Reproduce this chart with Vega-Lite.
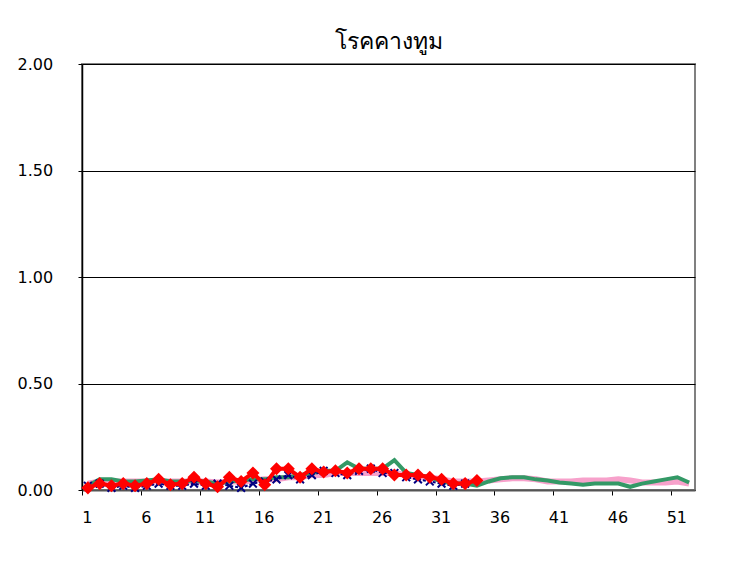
{
  "$schema": "https://vega.github.io/schema/vega-lite/v6.json",
  "width": 613,
  "height": 426,
  "autosize": {"type": "none"},
  "padding": {"left": 82, "top": 64, "right": 36, "bottom": 79},
  "background": "white",
  "title": {"text": "โรคคางทูม", "fontSize": 23, "fontWeight": "normal", "font": "DejaVu Sans", "color": "black", "anchor": "middle", "offset": 2},
  "config": {
    "view": {"stroke": "#808080", "strokeWidth": 2},
    "axis": {"labelFont": "DejaVu Sans", "labelFontSize": 16, "labelColor": "black"}
  },
  "data": {"values": [
    {"week": 1, "median": 0.03, "prev": 0.02, "last": 0.02, "current": 0.01},
    {"week": 2, "median": 0.04, "prev": 0.05, "last": 0.03, "current": 0.03},
    {"week": 3, "median": 0.04, "prev": 0.05, "last": 0.01, "current": 0.02},
    {"week": 4, "median": 0.04, "prev": 0.04, "last": 0.02, "current": 0.03},
    {"week": 5, "median": 0.04, "prev": 0.04, "last": 0.01, "current": 0.02},
    {"week": 6, "median": 0.04, "prev": 0.045, "last": 0.02, "current": 0.03},
    {"week": 7, "median": 0.04, "prev": 0.05, "last": 0.03, "current": 0.05},
    {"week": 8, "median": 0.04, "prev": 0.04, "last": 0.02, "current": 0.025},
    {"week": 9, "median": 0.04, "prev": 0.04, "last": 0.02, "current": 0.03},
    {"week": 10, "median": 0.04, "prev": 0.045, "last": 0.03, "current": 0.06},
    {"week": 11, "median": 0.04, "prev": 0.04, "last": 0.02, "current": 0.03},
    {"week": 12, "median": 0.035, "prev": 0.03, "last": 0.03, "current": 0.015},
    {"week": 13, "median": 0.04, "prev": 0.04, "last": 0.02, "current": 0.06},
    {"week": 14, "median": 0.04, "prev": 0.045, "last": 0.01, "current": 0.04},
    {"week": 15, "median": 0.045, "prev": 0.05, "last": 0.03, "current": 0.08},
    {"week": 16, "median": 0.05, "prev": 0.05, "last": 0.04, "current": 0.025},
    {"week": 17, "median": 0.05, "prev": 0.06, "last": 0.05, "current": 0.10},
    {"week": 18, "median": 0.06, "prev": 0.06, "last": 0.07, "current": 0.10},
    {"week": 19, "median": 0.06, "prev": 0.07, "last": 0.05, "current": 0.06},
    {"week": 20, "median": 0.07, "prev": 0.08, "last": 0.07, "current": 0.10},
    {"week": 21, "median": 0.07, "prev": 0.09, "last": 0.09, "current": 0.085},
    {"week": 22, "median": 0.08, "prev": 0.09, "last": 0.08, "current": 0.09},
    {"week": 23, "median": 0.08, "prev": 0.13, "last": 0.07, "current": 0.08},
    {"week": 24, "median": 0.08, "prev": 0.10, "last": 0.09, "current": 0.10},
    {"week": 25, "median": 0.08, "prev": 0.10, "last": 0.10, "current": 0.10},
    {"week": 26, "median": 0.08, "prev": 0.10, "last": 0.08, "current": 0.10},
    {"week": 27, "median": 0.08, "prev": 0.14, "last": 0.08, "current": 0.07},
    {"week": 28, "median": 0.07, "prev": 0.08, "last": 0.06, "current": 0.07},
    {"week": 29, "median": 0.06, "prev": 0.07, "last": 0.05, "current": 0.07},
    {"week": 30, "median": 0.06, "prev": 0.06, "last": 0.04, "current": 0.06},
    {"week": 31, "median": 0.05, "prev": 0.04, "last": 0.03, "current": 0.05},
    {"week": 32, "median": 0.04, "prev": 0.03, "last": 0.02, "current": 0.03},
    {"week": 33, "median": 0.04, "prev": 0.03, "last": 0.03, "current": 0.03},
    {"week": 34, "median": 0.04, "prev": 0.02, "last": null, "current": 0.045},
    {"week": 35, "median": 0.045, "prev": 0.04, "last": null, "current": null},
    {"week": 36, "median": 0.05, "prev": 0.055, "last": null, "current": null},
    {"week": 37, "median": 0.055, "prev": 0.06, "last": null, "current": null},
    {"week": 38, "median": 0.055, "prev": 0.06, "last": null, "current": null},
    {"week": 39, "median": 0.05, "prev": 0.05, "last": null, "current": null},
    {"week": 40, "median": 0.04, "prev": 0.045, "last": null, "current": null},
    {"week": 41, "median": 0.04, "prev": 0.035, "last": null, "current": null},
    {"week": 42, "median": 0.04, "prev": 0.03, "last": null, "current": null},
    {"week": 43, "median": 0.045, "prev": 0.025, "last": null, "current": null},
    {"week": 44, "median": 0.045, "prev": 0.03, "last": null, "current": null},
    {"week": 45, "median": 0.045, "prev": 0.03, "last": null, "current": null},
    {"week": 46, "median": 0.05, "prev": 0.03, "last": null, "current": null},
    {"week": 47, "median": 0.045, "prev": 0.015, "last": null, "current": null},
    {"week": 48, "median": 0.035, "prev": 0.03, "last": null, "current": null},
    {"week": 49, "median": 0.035, "prev": 0.04, "last": null, "current": null},
    {"week": 50, "median": 0.035, "prev": 0.05, "last": null, "current": null},
    {"week": 51, "median": 0.04, "prev": 0.06, "last": null, "current": null},
    {"week": 52, "median": 0.03, "prev": 0.035, "last": null, "current": null}
  ]},
  "encoding": {
    "x": {
      "field": "week", "type": "quantitative",
      "scale": {"domain": [0.5, 52.5], "nice": false, "zero": false},
      "axis": {
        "title": null,
        "values": [1, 6, 11, 16, 21, 26, 31, 36, 41, 46, 51],
        "grid": false,
        "domainColor": "#555555", "domainWidth": 2,
        "tickColor": "black", "tickSize": 5, "tickOffset": -6, "labelOffset": 5,
        "labelPadding": 14
      }
    }
  },
  "layer": [
    {
      "mark": {"type": "line", "color": "#F7A1CB", "strokeWidth": 6},
      "encoding": {"y": {
        "field": "median", "type": "quantitative",
        "scale": {"domain": [0, 2], "nice": false},
        "axis": {
          "title": null,
          "values": [0, 0.5, 1, 1.5, 2],
          "format": ".2f",
          "grid": true, "gridColor": "black", "gridWidth": 1, "gridOpacity": 1,
          "domainColor": "black", "domainWidth": 1.5,
          "tickColor": "black", "tickSize": 4,
          "labelAlign": "left", "labelPadding": 61, "labelBaseline": "middle"
        }
      }}
    },
    {
      "mark": {"type": "line", "color": "#339966", "strokeWidth": 4},
      "encoding": {"y": {"field": "prev", "type": "quantitative"}}
    },
    {
      "mark": {"type": "line", "color": "#000080", "strokeWidth": 2, "strokeDash": [3, 2]},
      "encoding": {"y": {"field": "last", "type": "quantitative"}}
    },
    {
      "mark": {"type": "point", "shape": "M-1,-1L1,1M-1,1L1,-1", "filled": false, "color": "#000080", "strokeWidth": 2, "size": 60, "opacity": 1},
      "encoding": {"y": {"field": "last", "type": "quantitative"}}
    },
    {
      "mark": {"type": "line", "color": "#FF0000", "strokeWidth": 4},
      "encoding": {"y": {"field": "current", "type": "quantitative"}}
    },
    {
      "mark": {"type": "point", "shape": "diamond", "filled": true, "color": "#FF0000", "size": 170, "opacity": 1},
      "encoding": {"y": {"field": "current", "type": "quantitative"}}
    }
  ]
}
